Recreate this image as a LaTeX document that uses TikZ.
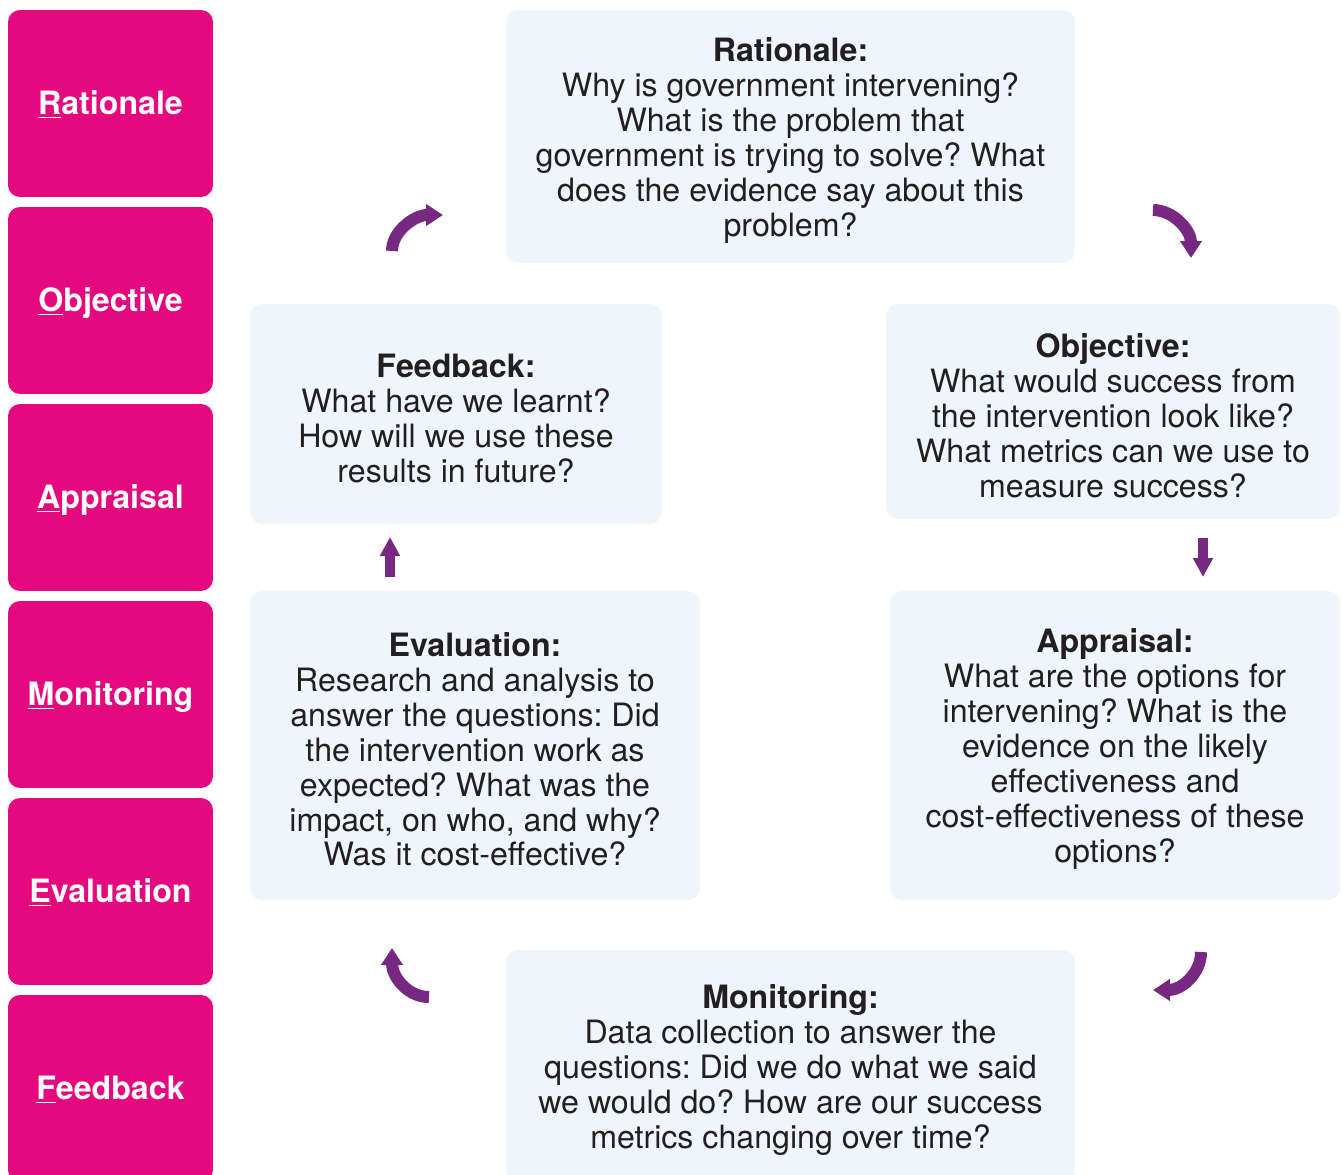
\documentclass[tikz,border=0pt]{standalone}
\usepackage{fontspec}
\setmainfont{TeX Gyre Heros}
\usetikzlibrary{arrows.meta}
\frenchspacing

\definecolor{stagepink}{HTML}{E5097F}
\definecolor{boxblue}{HTML}{EEF6FC}
\definecolor{arrowpurple}{HTML}{772981}
\definecolor{textdark}{HTML}{231F20}

\newcommand{\boxfont}{\fontsize{18.3pt}{19.9pt}\selectfont}
\newcommand{\stagelabel}[2]{\underline{#1}#2}
\newcommand{\boxtitle}[1]{\rule{0pt}{18pt}\textbf{#1}}

\tikzset{
  stagebox/.style={fill=stagepink, rounded corners=0.24cm, inner sep=0pt,
    minimum width=4.1cm, minimum height=3.74cm, text height=13pt, text depth=0pt,
    text=white, font=\boxfont\bfseries},
  infobox/.style={fill=boxblue, rounded corners=0.24cm, inner sep=0pt,
    align=center, text=textdark, font=\boxfont},
  cyclearrow/.style={draw=arrowpurple, line width=0.24cm,
    -{Triangle[width=0.42cm,length=0.34cm]}},
  steparrow/.style={draw=arrowpurple, line width=0.2cm,
    -{Triangle[width=0.38cm,length=0.38cm]}}
}

\begin{document}
\begin{tikzpicture}[x=0.02cm,y=-0.02cm]
  \useasboundingbox (0,0) rectangle (1343,1174);
  \clip (0,0) rectangle (1343,1174);

  % stages down the left side
  \node[stagebox] (srationale)  at (110.5,103.5) {\stagelabel{R}{ationale}};
  \node[stagebox] (sobjective)  at (110.5,300.5) {\stagelabel{O}{bjective}};
  \node[stagebox] (sappraisal)  at (110.5,497.5) {\stagelabel{A}{ppraisal}};
  \node[stagebox] (smonitoring) at (110.5,694.5) {\stagelabel{M}{onitoring}};
  \node[stagebox] (sevaluation) at (110.5,891.5) {\stagelabel{E}{valuation}};
  \node[stagebox] (sfeedback)   at (110.5,1088.5) {\stagelabel{F}{eedback}};

  % the cycle
  \node[infobox, minimum width=11.38cm, minimum height=5.06cm] (rationale) at (790.5,136.5)
    {\boxtitle{Rationale:}\\Why is government intervening?\\What is the problem that\\government is trying to solve? What\\does the evidence say about this\\problem?};
  \node[infobox, minimum width=9.08cm, minimum height=4.3cm] (objective) at (1113,411.5)
    {\boxtitle{Objective:}\\What would success from\\the intervention look like?\\What metrics can we use to\\measure success?};
  \node[infobox, minimum width=8.24cm, minimum height=4.4cm] (feedback) at (456,414)
    {\boxtitle{Feedback:}\\What have we learnt?\\How will we use these\\results in future?};
  \node[infobox, minimum width=9cm, minimum height=6.18cm] (evaluation) at (475,745.5)
    {\boxtitle{Evaluation:}\\Research and analysis to\\answer the questions: Did\\the intervention work as\\expected? What was the\\impact, on who, and why?\\Was it cost-effective?};
  \node[infobox, minimum width=9cm, minimum height=6.18cm] (appraisal) at (1115,745.5)
    {\boxtitle{Appraisal:}\\What are the options for\\intervening? What is the\\evidence on the likely\\effectiveness and\\cost-effectiveness of these\\options?};
  \node[infobox, minimum width=11.38cm, minimum height=4.64cm] (monitoring) at (790.5,1066)
    {\boxtitle{Monitoring:}\\Data collection to answer the\\questions: Did we do what we said\\we would do? How are our success\\metrics changing over time?};

  % arrow ends
  \coordinate (fbout) at (392,251);   \coordinate (ratin) at (443,215);
  \coordinate (ratout) at (1153,210); \coordinate (objin) at (1191,258);
  \coordinate (objout) at (1203,538); \coordinate (appin) at (1203,577);
  \coordinate (appout) at (1201,952); \coordinate (monin) at (1153,990);
  \coordinate (monout) at (429,997);  \coordinate (evin) at (392,948);
  \coordinate (evout) at (390,577);   \coordinate (fbin) at (390,537);

  \draw[cyclearrow] (fbout) .. controls +(0,-20) and +(-28,0) .. (ratin);
  \draw[cyclearrow] (ratout) .. controls +(20,0) and +(0,-28) .. (objin);
  \draw[steparrow] (objout) -- (appin);
  \draw[cyclearrow] (appout) .. controls +(0,22) and +(28,0) .. (monin);
  \draw[cyclearrow] (monout) .. controls +(-22,0) and +(0,28) .. (evin);
  \draw[steparrow] (evout) -- (fbin);
\end{tikzpicture}
\end{document}
